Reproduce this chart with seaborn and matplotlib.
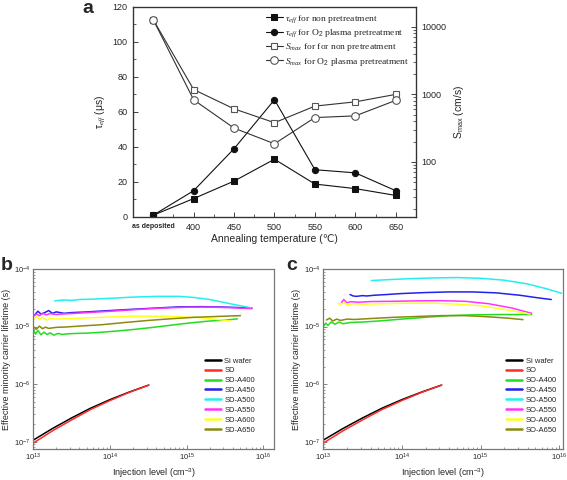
import matplotlib
matplotlib.use("Agg")
import matplotlib.pyplot as plt
import matplotlib.ticker as mticker
import numpy as np
import pandas as pd
import seaborn as sns

# ---------------- panel a data ----------------
anneal_labels = ["as deposited", "400", "450", "500", "550", "600", "650"]
tau_non = [1.0, 10.5, 20.5, 33.0, 18.8, 16.2, 12.3]        # us
tau_o2 = [1.0, 15.0, 39.0, 67.0, 27.0, 25.2, 15.0]         # us
smax_non = [12800, 1180, 610, 380, 670, 775, 1000]         # cm/s
smax_o2 = [12800, 830, 316, 185, 453, 480, 815]            # cm/s

# ---------------- panel b / c data (log10 of injection level, lifetime in s) ----------------
wafer_logn = [13.0, 13.25, 13.5, 13.75, 14.0, 14.25, 14.5]
wafer_tau = [1.07e-7, 1.7e-7, 2.6e-7, 3.85e-7, 5.4e-7, 7.3e-7, 9.6e-7]
bare_logn = [13.0, 13.25, 13.5, 13.75, 14.0, 14.25, 14.51]
bare_tau = [0.95e-7, 1.55e-7, 2.4e-7, 3.65e-7, 5.2e-7, 7.2e-7, 9.7e-7]

sd_a400_logn = [13.0, 13.03, 13.06, 13.1, 13.14, 13.18, 13.22, 13.27, 13.32, 13.38, 13.45, 13.55,
                13.7, 13.9, 14.1, 14.3, 14.5, 14.7, 14.9, 15.1, 15.3, 15.5, 15.66]
sd_a400_tau = [9.0e-6, 7.4e-6, 8.6e-6, 7.2e-6, 8.0e-6, 7.3e-6, 7.8e-6, 7.1e-6, 7.6e-6, 7.3e-6, 7.5e-6, 7.6e-6,
               7.7e-6, 8.0e-6, 8.4e-6, 8.9e-6, 9.5e-6, 10.2e-6, 11.0e-6, 11.8e-6, 12.5e-6, 13.0e-6, 13.6e-6]
sd_a450_logn = [13.02, 13.06, 13.1, 13.15, 13.2, 13.25, 13.3, 13.4, 13.5, 13.7, 14.0, 14.3, 14.6,
                14.9, 15.2, 15.5, 15.85]
sd_a450_tau = [1.6e-5, 1.85e-5, 1.65e-5, 1.75e-5, 1.9e-5, 1.7e-5, 1.8e-5, 1.7e-5, 1.75e-5, 1.8e-5,
               1.9e-5, 2.0e-5, 2.1e-5, 2.2e-5, 2.22e-5, 2.18e-5, 2.1e-5]
sd_a500_logn = [13.28, 13.4, 13.5, 13.6, 13.8, 14.0, 14.3, 14.6, 14.9, 15.1, 15.3, 15.5, 15.7, 15.85]
sd_a500_tau = [2.8e-5, 2.9e-5, 2.85e-5, 2.95e-5, 3.0e-5, 3.1e-5, 3.25e-5, 3.35e-5, 3.35e-5, 3.2e-5,
               2.95e-5, 2.6e-5, 2.3e-5, 2.1e-5]
sd_a550_logn = [13.0, 13.04, 13.08, 13.12, 13.17, 13.22, 13.3, 13.4, 13.55, 13.8, 14.1, 14.4, 14.7,
                15.0, 15.3, 15.6, 15.85]
sd_a550_tau = [1.5e-5, 1.65e-5, 1.55e-5, 1.7e-5, 1.6e-5, 1.68e-5, 1.62e-5, 1.66e-5, 1.7e-5, 1.78e-5,
               1.88e-5, 2.0e-5, 2.1e-5, 2.17e-5, 2.18e-5, 2.12e-5, 2.05e-5]
sd_a600_logn = [13.0, 13.04, 13.08, 13.12, 13.17, 13.22, 13.3, 13.4, 13.6, 13.9, 14.2, 14.5, 14.8,
                15.1, 15.3, 15.57]
sd_a600_tau = [1.3e-5, 1.5e-5, 1.35e-5, 1.45e-5, 1.3e-5, 1.4e-5, 1.35e-5, 1.38e-5, 1.4e-5, 1.45e-5,
               1.5e-5, 1.52e-5, 1.5e-5, 1.45e-5, 1.38e-5, 1.25e-5]
sd_a650_logn = [13.0, 13.04, 13.08, 13.12, 13.16, 13.2, 13.3, 13.4, 13.6, 13.9, 14.2, 14.5, 14.8,
                15.1, 15.4, 15.7]
sd_a650_tau = [1.0e-5, 0.9e-5, 1.02e-5, 0.92e-5, 0.98e-5, 0.93e-5, 0.97e-5, 0.98e-5, 1.02e-5, 1.08e-5,
               1.18e-5, 1.28e-5, 1.37e-5, 1.45e-5, 1.5e-5, 1.55e-5]

so_a400_logn = [13.0, 13.03, 13.06, 13.1, 13.15, 13.2, 13.25, 13.35, 13.5, 13.7, 14.0, 14.3, 14.6,
                14.9, 15.2, 15.5, 15.65]
so_a400_tau = [1.0e-5, 1.15e-5, 1.05e-5, 1.2e-5, 1.1e-5, 1.2e-5, 1.12e-5, 1.18e-5, 1.2e-5, 1.25e-5,
               1.35e-5, 1.45e-5, 1.55e-5, 1.6e-5, 1.62e-5, 1.62e-5, 1.62e-5]
so_a450_logn = [13.34, 13.38, 13.42, 13.5, 13.55, 13.65, 13.8, 14.0, 14.3, 14.6, 14.9, 15.2, 15.5,
                15.7, 15.9]
so_a450_tau = [3.6e-5, 3.4e-5, 3.35e-5, 3.45e-5, 3.4e-5, 3.5e-5, 3.6e-5, 3.75e-5, 3.9e-5, 4.0e-5,
               4.0e-5, 3.85e-5, 3.5e-5, 3.2e-5, 2.95e-5]
so_a500_logn = [13.61, 13.7, 13.9, 14.1, 14.4, 14.7, 15.0, 15.3, 15.6, 15.85, 16.03]
so_a500_tau = [6.3e-5, 6.4e-5, 6.6e-5, 6.8e-5, 7.0e-5, 7.1e-5, 6.9e-5, 6.4e-5, 5.5e-5, 4.5e-5, 3.8e-5]
so_a550_logn = [13.23, 13.26, 13.3, 13.35, 13.45, 13.6, 13.9, 14.2, 14.5, 14.8, 15.1, 15.4, 15.65]
so_a550_tau = [2.6e-5, 2.95e-5, 2.6e-5, 2.7e-5, 2.65e-5, 2.72e-5, 2.75e-5, 2.8e-5, 2.82e-5, 2.75e-5,
               2.5e-5, 2.1e-5, 1.7e-5]
so_a600_logn = [13.19, 13.22, 13.27, 13.3, 13.38, 13.5, 13.8, 14.1, 14.4, 14.7, 15.0, 15.3, 15.63]
so_a600_tau = [2.5e-5, 2.45e-5, 2.6e-5, 2.35e-5, 2.5e-5, 2.45e-5, 2.5e-5, 2.55e-5, 2.55e-5, 2.45e-5,
               2.3e-5, 2.0e-5, 1.65e-5]
so_a650_logn = [13.04, 13.08, 13.12, 13.17, 13.22, 13.3, 13.4, 13.6, 13.9, 14.2, 14.5, 14.8, 15.1,
                15.35, 15.54]
so_a650_tau = [1.3e-5, 1.4e-5, 1.25e-5, 1.35e-5, 1.28e-5, 1.35e-5, 1.33e-5, 1.38e-5, 1.45e-5, 1.5e-5,
               1.55e-5, 1.55e-5, 1.48e-5, 1.4e-5, 1.32e-5]

sample_colors = ["#000000", "#ff2a2a", "#22dd22", "#2222ee", "#22f0f0", "#ff33ff", "#ffff22", "#8a8a10"]

# ---------------- style ----------------
sns.set_style("ticks")
plt.rcParams["font.family"] = ["Liberation Sans", "DejaVu Sans"]
plt.rcParams["mathtext.fontset"] = "custom"
plt.rcParams["mathtext.rm"] = "Liberation Sans"
plt.rcParams["mathtext.it"] = "Liberation Serif:italic"
plt.rcParams["mathtext.bf"] = "Liberation Sans:bold"

fig = plt.figure(figsize=(5.67, 4.8), dpi=100)
ax_a = fig.add_axes([0.2346, 0.548, 0.499, 0.4375])
ax_b = fig.add_axes([0.0587, 0.0646, 0.4245, 0.375])
ax_c = fig.add_axes([0.5702, 0.0646, 0.4222, 0.375])

# ---------------- panel a ----------------
pos = np.arange(len(anneal_labels))
ax_s = ax_a.twinx()
ax_s.set_yscale("log")

sns.lineplot(x=pos, y=tau_non, ax=ax_a, color="#111111", lw=0.8, marker="s", markersize=4,
             markeredgecolor="#111111", label=r"$\tau_{eff}$ for non pretreatment", legend=False)
sns.lineplot(x=pos, y=tau_o2, ax=ax_a, color="#111111", lw=0.8, marker="o", markersize=4.5,
             markeredgecolor="#111111", label=r"$\tau_{eff}$ for O$_{\mathrm{2}}$ plasma pretreatment", legend=False)
sns.lineplot(x=pos, y=smax_non, ax=ax_s, color="#333333", lw=0.8, marker="s", markersize=5,
             markerfacecolor="white", markeredgecolor="#555555", markeredgewidth=0.8,
             label=r"$S_{max}$ for for non pretreatment", legend=False)
sns.lineplot(x=pos, y=smax_o2, ax=ax_s, color="#333333", lw=0.8, marker="o", markersize=5.5,
             markerfacecolor="white", markeredgecolor="#555555", markeredgewidth=0.8,
             label=r"$S_{max}$ for O$_{\mathrm{2}}$ plasma pretreatment", legend=False)

ax_a.set_xlim(-0.5, 6.5)
ax_a.set_ylim(0, 120)
ax_s.set_ylim(15.2, 19800)
ax_a.set_xticks(pos, labels=anneal_labels)
ax_a.xaxis.set_minor_locator(mticker.MultipleLocator(0.5))
ax_a.yaxis.set_major_locator(mticker.MultipleLocator(20))
ax_a.yaxis.set_minor_locator(mticker.MultipleLocator(10))
ax_a.tick_params(which="both", direction="in", top=False, right=False, labelsize=6.5, pad=4,
                 color="#222222")
ax_a.tick_params(which="major", length=3.5, width=0.6)
ax_a.tick_params(which="minor", length=2, width=0.5)
ax_s.tick_params(which="both", direction="in", labelsize=6.5, pad=4, color="#222222")
ax_s.tick_params(which="major", length=3.5, width=0.6)
ax_s.tick_params(which="minor", length=2, width=0.5)
ax_s.yaxis.set_major_formatter(mticker.FuncFormatter(lambda v, p: f"{v:g}"))
ax_s.yaxis.set_minor_formatter(mticker.NullFormatter())
first = ax_a.get_xticklabels()[0]
first.set_fontweight("bold")
first.set_fontsize(5)
for sp in ax_s.spines.values():
    sp.set_color("#333333")
    sp.set_linewidth(0.9)

ax_a.set_xlabel("Annealing temperature (℃)", fontsize=7.5, labelpad=2)
ax_a.set_ylabel("τ$_{eff}$ (μs)", fontsize=7.5, labelpad=3)
ax_s.set_ylabel("S$_{\\mathrm{max}}$ (cm/s)", fontsize=7.5, labelpad=4)

h1, l1 = ax_a.get_legend_handles_labels()
h2, l2 = ax_s.get_legend_handles_labels()
ax_s.legend(h1 + h2, l1 + l2, loc="upper right", bbox_to_anchor=(1.0, 1.0), frameon=False,
            prop={"family": "Liberation Serif", "size": 6.8}, handlelength=1.8, handletextpad=0.3,
            labelspacing=0.25, borderpad=0.15)

# ---------------- panels b and c ----------------
def lifetime_panel(ax, prefix, curves, anchor_x):
    names = ["Si wafer", prefix] + [f"{prefix}-A{t}" for t in (400, 450, 500, 550, 600, 650)]
    rows = []
    for name, (logn, tau) in zip(names, curves):
        for ln, tv in zip(logn, tau):
            rows.append({"n": 10.0 ** ln, "tau": tv, "sample": name})
    df = pd.DataFrame(rows)
    ax.set_xscale("log")
    ax.set_yscale("log")
    sns.lineplot(data=df, x="n", y="tau", hue="sample", hue_order=names,
                 palette=dict(zip(names, sample_colors)), sort=False, estimator=None,
                 lw=1.1, ax=ax)
    ax.set_ylim(7.5e-8, 1.0001e-4)
    ax.tick_params(which="both", direction="in", top=False, right=False, labelsize=5.5,
                   color="#555555", pad=2)
    ax.tick_params(which="major", length=3, width=0.5)
    ax.tick_params(which="minor", length=1.6, width=0.4)
    ax.yaxis.set_minor_locator(mticker.LogLocator(base=10, subs=np.arange(2, 10) * 1.0, numticks=20))
    ax.xaxis.set_minor_locator(mticker.LogLocator(base=10, subs=np.arange(2, 10) * 1.0, numticks=20))
    for sp in ax.spines.values():
        sp.set_color("#777777")
        sp.set_linewidth(0.9)
    ax.set_xlabel("Injection level (cm$^{-3}$)", fontsize=6.5, labelpad=2)
    ax.set_ylabel("Effective minority carrier lifetime (s)", fontsize=6.5, labelpad=2)
    sns.move_legend(ax, "upper left", bbox_to_anchor=(anchor_x, 0.51), frameon=False, title=None,
                    fontsize=5.5, handlelength=2.0, handletextpad=0.5, labelspacing=0.33,
                    borderpad=0, borderaxespad=0)
    for line in ax.get_legend().get_lines():
        line.set_linewidth(1.8)


lifetime_panel(ax_b, "SD",
               [(wafer_logn, wafer_tau), (bare_logn, bare_tau), (sd_a400_logn, sd_a400_tau),
                (sd_a450_logn, sd_a450_tau), (sd_a500_logn, sd_a500_tau), (sd_a550_logn, sd_a550_tau),
                (sd_a600_logn, sd_a600_tau), (sd_a650_logn, sd_a650_tau)], 0.715)
ax_b.set_xlim(1e13, 1.37e16)

lifetime_panel(ax_c, "SO",
               [(wafer_logn, wafer_tau), (bare_logn, bare_tau), (so_a400_logn, so_a400_tau),
                (so_a450_logn, so_a450_tau), (so_a500_logn, so_a500_tau), (so_a550_logn, so_a550_tau),
                (so_a600_logn, so_a600_tau), (so_a650_logn, so_a650_tau)], 0.765)
ax_c.set_xlim(1e13, 1.11e16)

# panel letters
fig.text(0.155, 0.972, "a", fontsize=14, fontweight="bold", ha="center", va="baseline")
fig.text(0.012, 0.4375, "b", fontsize=14, fontweight="bold", ha="center", va="baseline")
fig.text(0.515, 0.4375, "c", fontsize=14, fontweight="bold", ha="center", va="baseline")

fig.savefig("out.png", dpi=100)
